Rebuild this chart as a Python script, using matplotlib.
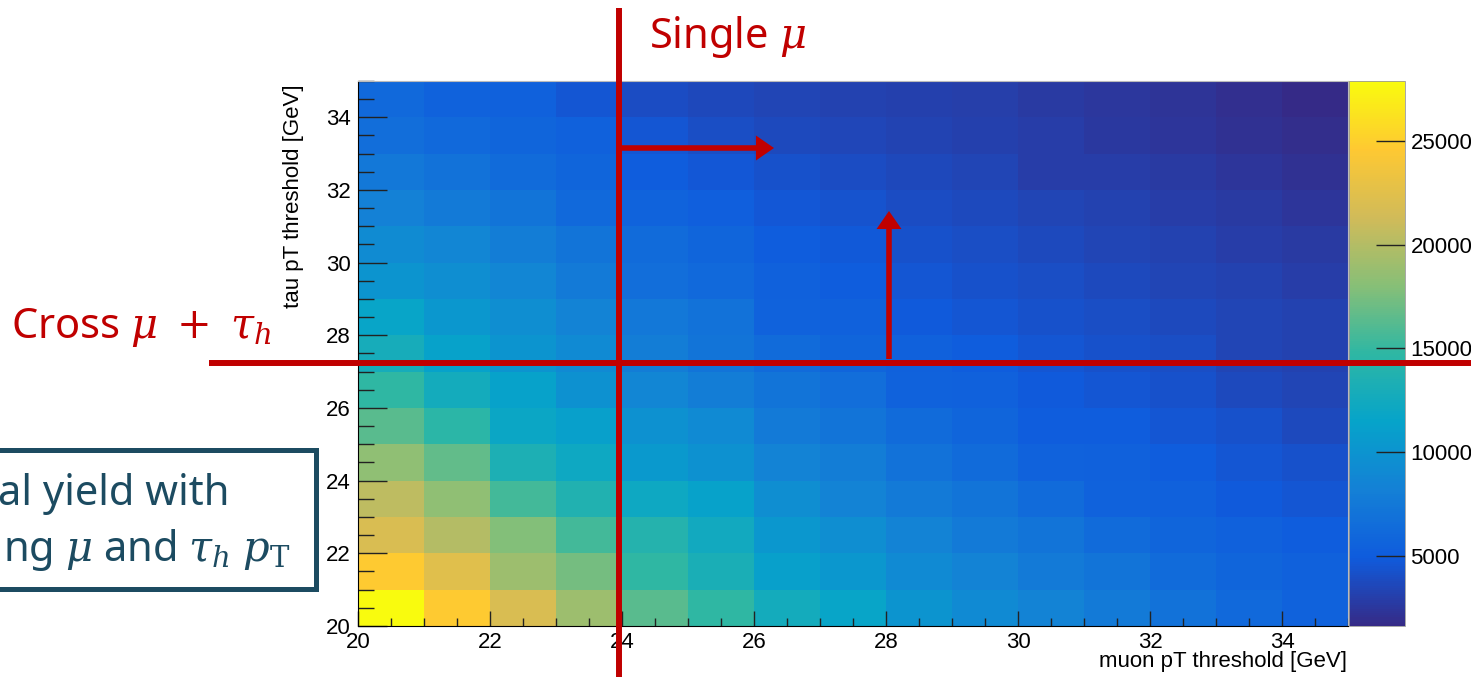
import numpy as np
import matplotlib
matplotlib.use("Agg")
import matplotlib.pyplot as plt
from matplotlib.colors import LinearSegmentedColormap
from matplotlib.lines import Line2D
from matplotlib.patches import FancyArrowPatch, Rectangle
from matplotlib.ticker import MultipleLocator

# bin edges of the threshold scan [GeV]
muon_edges = list(range(20, 36))
tau_edges = list(range(20, 36))

# signal yield, one row per tau threshold (20 at the bottom ... 34 at the top),
# one column per muon threshold (20 ... 34)
yield_tau20 = [27900, 24700, 21900, 19000, 16300, 14800, 12600, 11600, 10000, 9000, 8400, 7600, 6900, 6100, 5500]
yield_tau21 = [24700, 22400, 19000, 17400, 14800, 13200, 11100, 10300, 9000, 8400, 7600, 7100, 6300, 5800, 5300]
yield_tau22 = [21900, 20000, 17900, 15500, 14000, 12400, 10300, 9500, 8400, 7600, 7100, 6300, 5800, 5300, 5000]
yield_tau23 = [20500, 18400, 15500, 13700, 12100, 11300, 9500, 8400, 7600, 7100, 6300, 5500, 5300, 4800, 4500]
yield_tau24 = [18400, 16600, 13400, 12100, 10500, 9800, 8400, 7900, 6900, 6300, 5500, 5300, 5000, 4500, 4200]
yield_tau25 = [16300, 14500, 11900, 11100, 9800, 9000, 7600, 7100, 6300, 5800, 5000, 5000, 4500, 4200, 3700]
yield_tau26 = [14800, 12600, 11300, 9800, 8700, 7900, 7100, 6600, 5500, 5300, 4800, 4500, 4200, 3700, 3400]
yield_tau27 = [12900, 11300, 10000, 9000, 7900, 7100, 6300, 5800, 5300, 5000, 4500, 4200, 4000, 3400, 3200]
yield_tau28 = [11600, 10300, 9500, 8400, 7400, 6900, 5500, 5300, 4800, 4500, 4200, 4000, 3700, 3400, 3200]
yield_tau29 = [10000, 9500, 8700, 7600, 6600, 6100, 5300, 5000, 4500, 4200, 4000, 3700, 3400, 3200, 2900]
yield_tau30 = [9200, 8700, 7900, 7100, 6300, 5800, 5000, 4700, 4200, 4000, 3700, 3400, 3200, 2900, 2700]
yield_tau31 = [8200, 7600, 7100, 6100, 5600, 5200, 4600, 4300, 3900, 3700, 3400, 3200, 2900, 2700, 2400]
yield_tau32 = [7400, 6900, 6300, 5800, 5000, 4600, 4200, 3900, 3600, 3400, 2900, 2900, 2700, 2400, 2100]
yield_tau33 = [6600, 6100, 5800, 5300, 4500, 4000, 3700, 3500, 3300, 3100, 2900, 2600, 2400, 2100, 1900]
yield_tau34 = [6100, 5500, 5300, 4500, 3900, 3600, 3400, 3200, 3100, 3000, 2700, 2500, 2300, 2000, 1600]

colorbar_ticks = [5000, 10000, 15000, 20000, 25000]

RED = "#C00000"
BOX = "#1C4B61"
W, H = 1471, 677


def fx(x):
    return x / W


def fy(y):
    return 1 - y / H


# ROOT kBird palette
stops = [0.0, 0.125, 0.25, 0.375, 0.5, 0.625, 0.75, 0.875, 1.0]
red = [0.2082, 0.0592, 0.0780, 0.0232, 0.1802, 0.5301, 0.8186, 0.9956, 0.9764]
green = [0.1664, 0.3599, 0.5041, 0.6419, 0.7178, 0.7492, 0.7328, 0.7862, 0.9832]
blue = [0.5293, 0.8684, 0.8385, 0.7914, 0.6425, 0.4662, 0.3499, 0.1968, 0.0539]
bird = LinearSegmentedColormap.from_list("bird", list(zip(stops, zip(red, green, blue))))

plt.rcParams["font.family"] = ["Liberation Sans", "DejaVu Sans"]
plt.rcParams["mathtext.fontset"] = "custom"
plt.rcParams["mathtext.it"] = "DejaVu Serif:italic"
plt.rcParams["mathtext.rm"] = "DejaVu Serif"

yields = np.array([yield_tau20, yield_tau21, yield_tau22, yield_tau23, yield_tau24,
                   yield_tau25, yield_tau26, yield_tau27, yield_tau28, yield_tau29,
                   yield_tau30, yield_tau31, yield_tau32, yield_tau33, yield_tau34])

fig = plt.figure(figsize=(W / 100, H / 100), dpi=100)
ax = fig.add_axes([fx(358), fy(626), (1348 - 358) / W, (626 - 81) / H])
mesh = ax.pcolormesh(muon_edges, tau_edges, yields, cmap=bird, shading="flat")
ax.set_xlim(20, 35)
ax.set_ylim(20, 35)
ax.set_xticks(range(20, 35, 2))
ax.set_yticks(range(20, 35, 2))
ax.xaxis.set_minor_locator(MultipleLocator(0.5))
ax.yaxis.set_minor_locator(MultipleLocator(0.5))
ax.tick_params(which="both", direction="in", top=False, right=False, labelsize=16, color="#222222")
ax.tick_params(axis="x", which="major", length=11, width=1, pad=4)
ax.tick_params(axis="x", which="minor", length=5.5, width=1)
ax.tick_params(axis="y", which="major", length=21, width=1, pad=5)
ax.tick_params(axis="y", which="minor", length=11.5, width=1)
for side in ["top", "right"]:
    ax.spines[side].set_color("#bbbbbb")
    ax.spines[side].set_linewidth(0.8)

fig.text(fx(1347), fy(662), "muon pT threshold [GeV]", ha="right", va="center", fontsize=16)
fig.text(fx(294), fy(84), "tau pT threshold [GeV]", ha="center", va="top", rotation=90, fontsize=16)

cax = fig.add_axes([fx(1349), fy(626), 56 / W, (626 - 81) / H])
cb = fig.colorbar(mesh, cax=cax, ticks=colorbar_ticks)
cax.tick_params(direction="in", length=21, width=1, labelsize=16, pad=4, color="#222222")
cb.outline.set_edgecolor("#999999")
cb.outline.set_linewidth(0.6)

# slide annotations
fig.add_artist(Line2D([fx(619), fx(619)], [fy(8), fy(677)], color=RED, lw=4.3, solid_capstyle="butt"))
fig.add_artist(Line2D([fx(209), fx(1471)], [fy(363), fy(363)], color=RED, lw=4.3, solid_capstyle="butt"))
arrow_style = "simple,head_length=0.65,head_width=0.9,tail_width=0.2"
fig.add_artist(FancyArrowPatch((fx(619), fy(148)), (fx(774), fy(148)), transform=fig.transFigure,
                               arrowstyle=arrow_style, mutation_scale=20, color=RED, lw=0,
                               shrinkA=0, shrinkB=0))
fig.add_artist(FancyArrowPatch((fx(889), fy(359)), (fx(889), fy(211)), transform=fig.transFigure,
                               arrowstyle=arrow_style, mutation_scale=20, color=RED, lw=0,
                               shrinkA=0, shrinkB=0))

fig.text(fx(649), fy(48), r"Single $\mu$", color=RED, fontsize=30, family="Noto Sans", va="baseline")
fig.text(fx(11), fy(338), r"Cross $\mu\;+\;\tau_h$", color=RED, fontsize=30, family="Noto Sans",
         va="baseline")

fig.add_artist(Rectangle((fx(-10), fy(589)), 326 / W, 139 / H, transform=fig.transFigure,
                         fill=False, edgecolor=BOX, lw=3.6))
fig.text(fx(-2), fy(505), "al yield with", color=BOX, fontsize=30, family="Noto Sans", va="baseline")
fig.text(fx(3), fy(561), r"ng $\mu$ and $\tau_h\;p_\mathrm{T}$", color=BOX, fontsize=30,
         family="Noto Sans", va="baseline")

fig.savefig("out.png", dpi=100)
